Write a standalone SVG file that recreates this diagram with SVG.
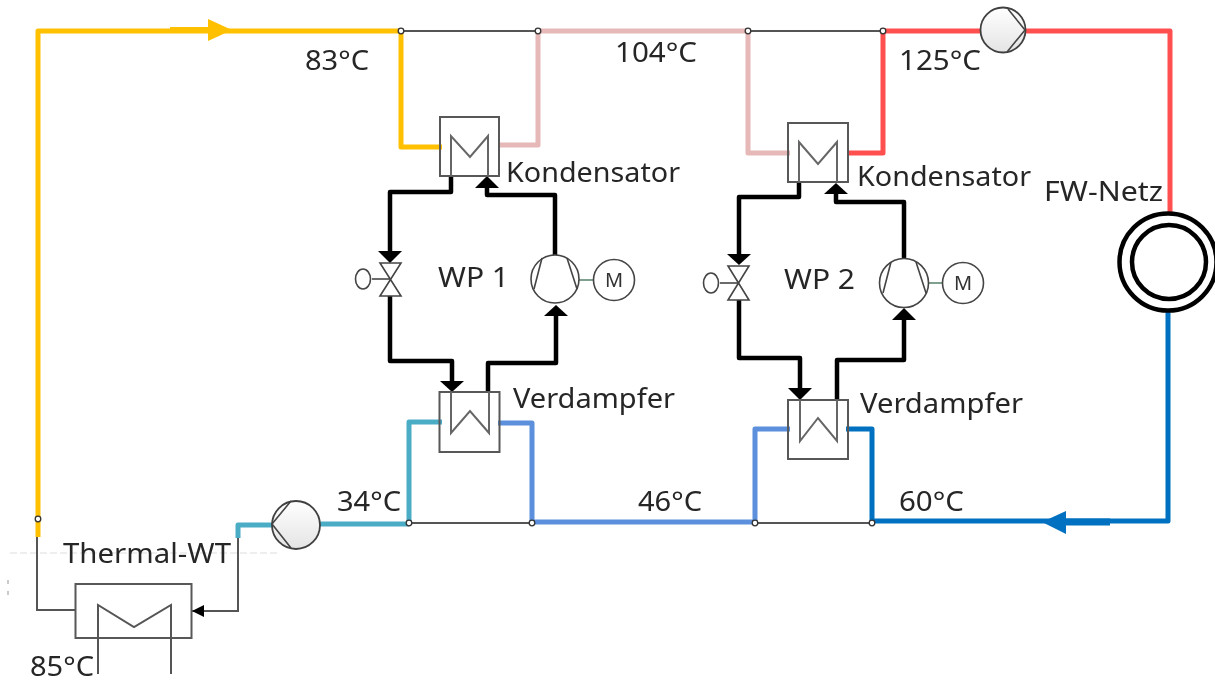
<svg xmlns="http://www.w3.org/2000/svg" width="1215" height="685" viewBox="0 0 1215 685">
<style>
.t{font-family:"Noto Sans","Open Sans","Liberation Sans",sans-serif;font-size:28px;fill:#262626}
.m{font-family:"Noto Sans","Liberation Sans",sans-serif;font-size:20px;fill:#333;text-anchor:middle}
.p{fill:none;stroke-width:5;stroke-linejoin:round;stroke-linecap:butt}
.g{fill:none;stroke:#555;stroke-width:2}
.k{fill:none;stroke:#000;stroke-width:4.5;stroke-linejoin:round}
.box{fill:#fff;fill-opacity:0;stroke:#595959;stroke-width:2}
.coil{fill:none;stroke:#666;stroke-width:2}
.sym{fill:#fff;stroke:#444;stroke-width:1.6}
.ln{fill:none;stroke:#444;stroke-width:1.6}
.pump{fill:url(#pg);stroke:#404040;stroke-width:1.8}
.head{fill:#000}
</style>
<defs>
<linearGradient id="pg" x1="0" y1="0" x2="0" y2="1"><stop offset="0" stop-color="#fff"/><stop offset="1" stop-color="#e4e4e4"/></linearGradient>
<filter id="soft" x="0" y="0" width="1215" height="685" filterUnits="userSpaceOnUse"><feGaussianBlur stdDeviation="0.45"/></filter>
</defs>
<g filter="url(#soft)">
<g id="background-marks">
<path d="M10 553H277" stroke="#ddd" stroke-width="1" stroke-dasharray="7 3" fill="none"/>
<path d="M8 580v4M8 591v4" stroke="#bbb" stroke-width="1.5" fill="none"/>
</g>

<g id="connectors">
<path class="g" d="M401 31H538M748 31H883M409 523H532M755 523H872" stroke-width="1.6"/>
<path class="g" d="M37 535V610H75M238 538V611H192"/>
<path class="g" d="M98 640V674M171 640V674"/>
<path class="p" stroke="#ffc000" d="M38 537V31H401V147H442"/>
<path class="p" stroke="#e6b8b7" d="M538 31H748M538 31V145H498M748 31V153H790"/>
<path class="p" stroke="#ff5050" d="M883 31H985M883 31V153H847M1024 31H1170V213"/>
<path class="p" stroke="#0070c0" d="M1168 310V521H872V429H846"/>
<path class="p" stroke="#5b8fdc" d="M755 522H532V423H498M755 522V429H790"/>
<path class="p" stroke="#4bacc6" d="M409 523V422H442M409 524H320M272 525H238V538"/>
<path class="k" d="M451 176V192H390V253M390 296V361H452V382M488 392V363H556V316M555 255V195H487V186"/>
<path class="k" d="M799 182V197H739V256M739 300V358H800V390M837 400V360H904V320M904 259V202H836V192"/>
<path d="M170 30H215" stroke="#ffc000" stroke-width="6" fill="none"/>
<path d="M1110 522H1060" stroke="#0070c0" stroke-width="7" fill="none"/>
<g id="arrowheads">
<path d="M208 19L232 30L208 41Z" fill="#ffc000"/>
<path d="M1066 511L1042 522L1066 534Z" fill="#0070c0"/>
<path class="head" d="M378 251H402L390 263Z"/>
<path class="head" d="M440 381H464L452 392Z"/>
<path class="head" d="M544 316H568L556 305Z"/>
<path class="head" d="M475 188H499L487 176Z"/>
<path class="head" d="M727 254H751L739 265Z"/>
<path class="head" d="M788 388H812L800 400Z"/>
<path class="head" d="M892 320H916L904 308Z"/>
<path class="head" d="M824 194H848L836 183Z"/>
<path class="head" d="M204 605V617L192 611Z"/>
</g>
<g fill="#fff" stroke="#333" stroke-width="1.3">
<circle cx="401" cy="31" r="2.8"/><circle cx="538" cy="31" r="2.8"/><circle cx="748" cy="31" r="2.8"/><circle cx="883" cy="31" r="2.8"/>
<circle cx="409" cy="523" r="2.8"/><circle cx="532" cy="523" r="2.8"/><circle cx="755" cy="523" r="2.8"/><circle cx="872" cy="523" r="2.8"/>
<circle cx="38" cy="519" r="2.8"/>
</g>
</g>

<g id="kondensator-1"><rect class="box" x="440" y="117" width="59" height="59"/><path class="coil" d="M451 176V136L470 157L488 136V176"/></g>
<g id="kondensator-2"><rect class="box" x="788" y="123" width="60" height="59"/><path class="coil" d="M799 182V142L818 164L837 142V182"/></g>
<g id="verdampfer-1"><rect class="box" x="439.500" y="392" width="60" height="60"/><path class="coil" d="M451 392V433L470 411L489 433V392"/></g>
<g id="verdampfer-2"><rect class="box" x="788" y="400" width="60" height="59"/><path class="coil" d="M800 400V441L818 418L837 441V400"/></g>
<g id="thermal-wt"><rect class="box" x="75.500" y="584" width="116" height="54"/><path class="g" d="M98 640V605L134 627L171 605V640"/></g>

<g id="ventil-1"><path class="ln" d="M372 279H390"/><ellipse class="sym" cx="363" cy="279" rx="7.500" ry="10"/><path class="sym" d="M380 263H401L380 296H401Z"/></g>
<g id="ventil-2"><path class="ln" d="M720 283H739"/><ellipse class="sym" cx="711" cy="283" rx="7.500" ry="10"/><path class="sym" d="M728 266H749L728 300H749Z"/></g>

<g id="verdichter-1"><path d="M578 280H594" stroke="#7f9f8f" stroke-width="2" fill="none"/><circle class="sym" cx="555" cy="279" r="24"/><path class="ln" d="M542 258L534 289M567 258L577 289"/><circle class="sym" cx="614" cy="280" r="20.500"/><text class="m" x="614" y="287">M</text></g>
<g id="verdichter-2"><path d="M928 283H942" stroke="#7f9f8f" stroke-width="2" fill="none"/><circle class="sym" cx="904" cy="283" r="24.500"/><path class="ln" d="M891 262L883 293M916 262L926 293"/><circle class="sym" cx="963" cy="283" r="20.500"/><text class="m" x="963" y="290">M</text></g>

<g id="pumpe-oben"><circle class="pump" cx="1003" cy="30" r="22.500"/><path class="ln" d="M1008 9L1025 30L1007 52"/></g>
<g id="pumpe-unten"><circle class="pump" cx="296" cy="525" r="24"/><path class="ln" d="M291 501L272 524L291 548"/></g>

<g id="fw-netz"><circle cx="1168" cy="262" r="48.500" fill="none" stroke="#000" stroke-width="4.500"/><circle cx="1169" cy="262" r="37" fill="none" stroke="#000" stroke-width="4.500"/></g>

<g id="labels">
<text class="t" x="305" y="70" textLength="64" lengthAdjust="spacingAndGlyphs">83°C</text>
<text class="t" x="615" y="62" textLength="82" lengthAdjust="spacingAndGlyphs">104°C</text>
<text class="t" x="899" y="70" textLength="82" lengthAdjust="spacingAndGlyphs">125°C</text>
<text class="t" x="506" y="182" textLength="174" lengthAdjust="spacingAndGlyphs">Kondensator</text>
<text class="t" x="857" y="186" textLength="174" lengthAdjust="spacingAndGlyphs">Kondensator</text>
<text class="t" x="1044" y="201" textLength="119" lengthAdjust="spacingAndGlyphs">FW-Netz</text>
<text class="t" x="438" y="287" textLength="71" lengthAdjust="spacingAndGlyphs">WP 1</text>
<text class="t" x="784" y="289" textLength="71" lengthAdjust="spacingAndGlyphs">WP 2</text>
<text class="t" x="513" y="408" textLength="162" lengthAdjust="spacingAndGlyphs">Verdampfer</text>
<text class="t" x="860" y="413" textLength="163" lengthAdjust="spacingAndGlyphs">Verdampfer</text>
<text class="t" x="337" y="511" textLength="64" lengthAdjust="spacingAndGlyphs">34°C</text>
<text class="t" x="638" y="511" textLength="64" lengthAdjust="spacingAndGlyphs">46°C</text>
<text class="t" x="899" y="511" textLength="65" lengthAdjust="spacingAndGlyphs">60°C</text>
<text class="t" x="63" y="563" textLength="168" lengthAdjust="spacingAndGlyphs">Thermal-WT</text>
<text class="t" x="30" y="676" textLength="64" lengthAdjust="spacingAndGlyphs">85°C</text>
</g>
</g>
</svg>
